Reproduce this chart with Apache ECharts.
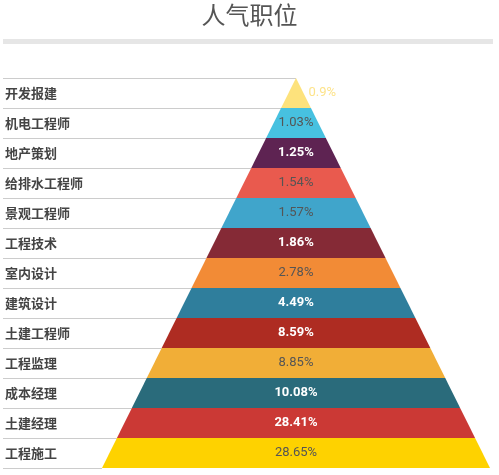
<!DOCTYPE html>
<html>
<head>
<meta charset="utf-8">
<script src="https://cdn.jsdelivr.net/npm/echarts@6/dist/echarts.min.js"></script>
<style>
  html, body { margin: 0; padding: 0; background: #fff; }
  #chart { width: 499px; height: 475px; }
</style>
</head>
<body>
<div id="chart"></div>
<script>
// ---- data ----
const titleText = '人气职位';
const categories = ['开发报建', '机电工程师', '地产策划', '给排水工程师', '景观工程师', '工程技术', '室内设计', '建筑设计', '土建工程师', '工程监理', '成本经理', '土建经理', '工程施工'];
const shares = [0.9, 1.03, 1.25, 1.54, 1.57, 1.86, 2.78, 4.49, 8.59, 8.85, 10.08, 28.41, 28.65];
// pyramid tier of each job (tier sets the band width in the pyramid)
const tiers = [1, 2, 3, 4, 5, 6, 7, 8, 9, 10, 11, 12, 13];

// ---- styles ----
const fills = ['#fde27c', '#47c1e0', '#5e2352', '#e95a4e', '#40a5cb', '#852a36', '#f28b36', '#2f7e9c', '#ae2c22', '#f1ae37', '#2a6b7b', '#cb3935', '#fed200'];
const lightText = [false, false, true, false, false, true, false, true, true, false, true, true, false];
const FUN = { left: 102, top: 78, width: 388, height: 390 };
const LINE_START = 3;
const halfW = FUN.width / 2;
const centerX = FUN.left + halfW;
const maxTier = Math.max.apply(null, tiers);
const xMin = -maxTier * (centerX - LINE_START) / halfW;

const funnelData = categories.map(function (name, i) {
  const item = {
    name: name,
    value: tiers[i],
    share: shares[i],
    itemStyle: { color: fills[i] },
    label: lightText[i]
      ? { color: '#ffffff', fontWeight: 'bold' }
      : { color: '#555555', fontWeight: 'normal' }
  };
  if (i === 0) {
    item.label = { position: 'right', color: '#fde38a', fontWeight: 'normal' };
    item.labelLine = { show: false, length: 0 };
  }
  return item;
});

const chart = echarts.init(document.getElementById('chart'), null, { renderer: 'canvas' });
chart.setOption({
  animation: false,
  backgroundColor: '#ffffff',
  title: {
    text: titleText,
    left: 'center',
    top: -2,
    textStyle: { fontFamily: 'Noto Sans CJK SC', fontSize: 24, fontWeight: 'normal', color: '#555555' }
  },
  graphic: [{
    type: 'rect',
    shape: { x: 3, y: 39, width: 490, height: 5 },
    style: { fill: '#e6e6e6' },
    silent: true
  }],
  grid: { left: LINE_START, width: centerX - LINE_START, top: FUN.top, height: FUN.height, containLabel: false },
  xAxis: { type: 'value', min: xMin, max: 0, show: false },
  yAxis: {
    type: 'category',
    data: categories,
    inverse: true,
    axisLine: { show: false },
    axisTick: { show: false },
    splitLine: { show: false },
    axisLabel: {
      inside: true,
      margin: 2,
      color: '#444444',
      fontFamily: 'Noto Sans CJK SC',
      fontSize: 13,
      fontWeight: 'bold'
    }
  },
  series: [
    {
      type: 'custom',
      silent: true,
      z: 1,
      data: categories.map(function (c, i) { return [i, tiers[i]]; }),
      renderItem: function (params, api) {
        const idx = api.value(0);
        const tier = api.value(1);
        const band = api.size([0, 1])[1];
        const c = api.coord([0, idx]);
        const yBottom = Math.round(c[1] + band / 2) + 0.5;
        const start = api.coord([xMin, idx])[0];
        const endBottom = api.coord([-tier, idx])[0];
        const children = [{
          type: 'line',
          shape: { x1: start, y1: yBottom, x2: endBottom, y2: yBottom },
          style: { stroke: '#cccccc', lineWidth: 1 }
        }];
        if (params.dataIndex === 0) {
          const yTop = Math.round(c[1] - band / 2) + 0.5;
          children.push({
            type: 'line',
            shape: { x1: start, y1: yTop, x2: api.coord([0, idx])[0], y2: yTop },
            style: { stroke: '#cccccc', lineWidth: 1 }
          });
        }
        return { type: 'group', children: children };
      }
    },
    {
      type: 'funnel',
      z: 3,
      left: FUN.left,
      top: FUN.top,
      width: FUN.width,
      height: FUN.height,
      sort: 'ascending',
      min: 0,
      max: maxTier,
      minSize: '0%',
      maxSize: '100%',
      gap: 0,
      funnelAlign: 'center',
      itemStyle: { borderWidth: 0 },
      label: {
        show: true,
        position: 'inside',
        fontFamily: 'Roboto',
        fontSize: 13,
        formatter: function (p) { return p.data.share + '%'; }
      },
      labelLine: { show: false },
      emphasis: { disabled: true },
      data: funnelData
    }
  ]
});
</script>
</body>
</html>
